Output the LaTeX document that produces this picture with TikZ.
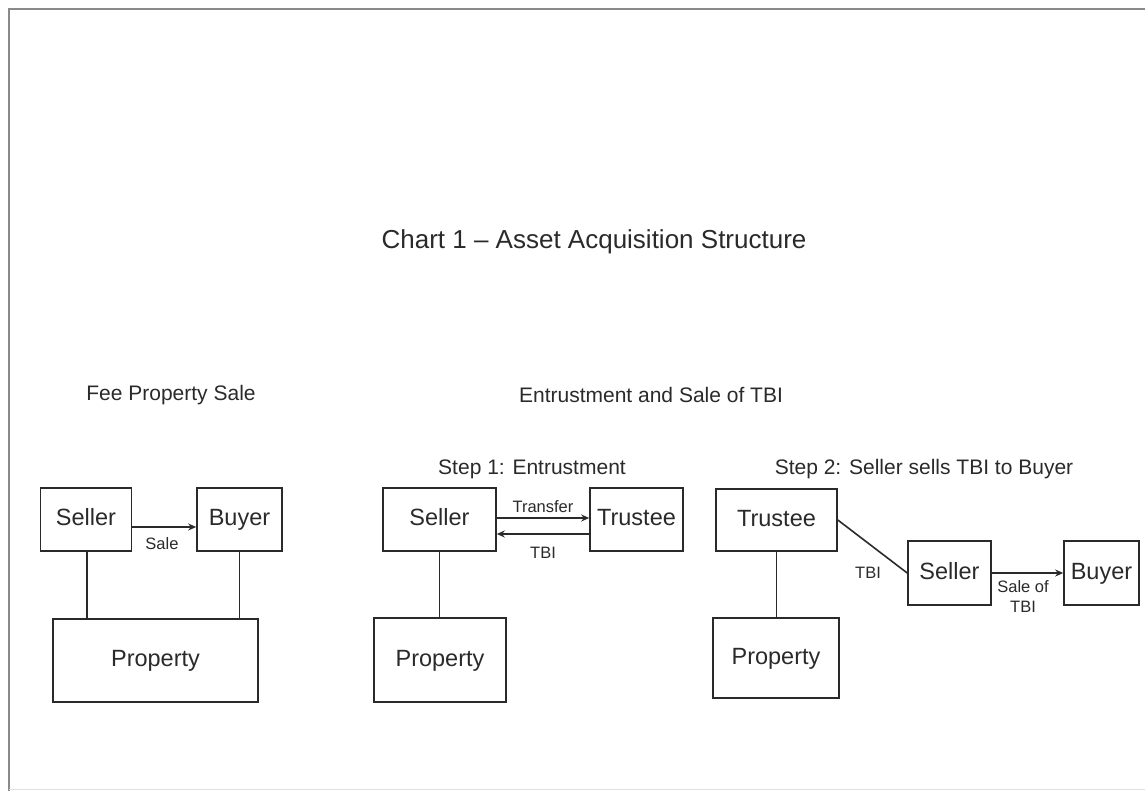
\documentclass[tikz,border=0pt]{standalone}
\usepackage{fontspec}
\setmainfont{Liberation Sans}
\usetikzlibrary{arrows.meta}
\definecolor{ink}{HTML}{2A2A2A}
\definecolor{framegray}{HTML}{8A8A8A}
\tikzset{
  box/.style={draw=ink, line width=1.6pt, inner sep=0pt, text=ink, text height=17pt, text depth=5pt, font=\fontsize{23.5}{27}\selectfont},
  link/.style={draw=ink, line width=1.6pt},
  arr/.style={draw=ink, line width=1.6pt, -{Stealth[length=8pt,width=7pt]}},
  small/.style={text=ink, font=\fontsize{16.5}{20}\selectfont, inner sep=0pt},
  sub/.style={text=ink, font=\fontsize{21}{25}\selectfont, inner sep=0pt},
  ttl/.style={text=ink, font=\fontsize{26}{30}\selectfont, inner sep=0pt}
}
\begin{document}
\begin{tikzpicture}[x=1pt,y=-1pt]
\useasboundingbox (0,0) rectangle (1145,791);
% frame
\draw[framegray, line width=2pt] (9,791) -- (9,9) -- (1145,9);
\draw[black!12, line width=1pt] (9,789) -- (1145,789);

% titles
\node[ttl] (title) at (594,242) {Chart 1 -- Asset Acquisition Structure};
\node[sub] (feeT) at (171,395) {Fee Property Sale};
\node[sub] (entT) at (651,395) {Entrustment and Sale of TBI};
\node[sub] (s1T) at (532,469) {Step 1: Entrustment};
\node[sub] (s2T) at (924,469) {Step 2: Seller sells TBI to Buyer};

% left: fee property sale
\node[box, minimum width=91pt, minimum height=63pt] (sellerA) at (86,519.5) {Seller};
\node[box, minimum width=85pt, minimum height=63pt] (buyerA) at (239.5,519.5) {Buyer};
\node[box, minimum width=205pt, minimum height=83pt] (propA) at (155.5,660.5) {Property};
\draw[link] ([xshift=1pt]sellerA.south) -- ([xshift=1pt]sellerA.south |- propA.north);
\draw[link] (buyerA.south) -- (buyerA.south |- propA.north);
\draw[arr] ([yshift=-7.5pt]sellerA.east) -- ([yshift=-7.5pt]buyerA.west);
\node[small] (saleA) at (162,544) {Sale};

% middle: step 1
\node[box, minimum width=113pt, minimum height=63pt] (sellerB) at (439.5,519.5) {Seller};
\node[box, minimum width=93pt, minimum height=63pt] (trusteeB) at (636.5,519.5) {Trustee};
\node[box, minimum width=132pt, minimum height=84pt] (propB) at (440,660) {Property};
\draw[link] (sellerB.south) -- (sellerB.south |- propB.north);
\draw[arr] ([yshift=1.5pt]sellerB.east) -- ([yshift=1.5pt]trusteeB.west);
\draw[arr] ([yshift=-14.5pt]trusteeB.west) -- ([yshift=-14.5pt]sellerB.east);
\node[small] (transferB) at (543,507) {Transfer};
\node[small] (tbiB) at (543,553) {TBI};

% right: step 2
\node[box, minimum width=121pt, minimum height=62pt] (trusteeC) at (776.5,520) {Trustee};
\node[box, minimum width=126pt, minimum height=80pt] (propC) at (776,658) {Property};
\node[box, minimum width=83pt, minimum height=64pt] (sellerC) at (949.5,573) {Seller};
\node[box, minimum width=75pt, minimum height=64pt] (buyerC) at (1101.5,573) {Buyer};
\draw[link] (trusteeC.south) -- (trusteeC.south |- propC.north);
\draw[link] (trusteeC.east) -- (sellerC.west);
\node[small] (tbiC) at (868,573) {TBI};
\draw[arr] (sellerC.east) -- (buyerC.west);
\node[small, align=center] (saleC) at (1023,597) {Sale of\\TBI};
\end{tikzpicture}
\end{document}
